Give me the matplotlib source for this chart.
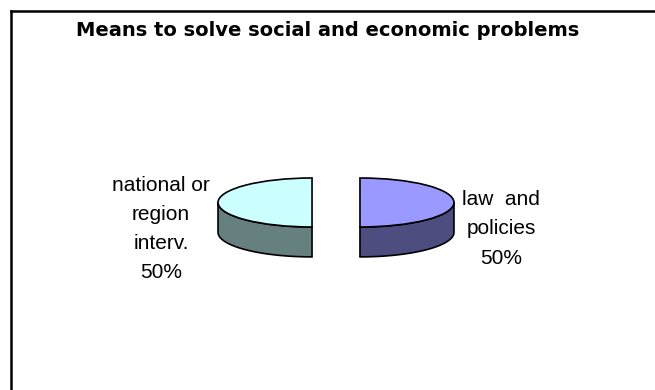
import numpy as np
import matplotlib
matplotlib.use("Agg")
import matplotlib.pyplot as plt
from matplotlib.patches import Polygon
from matplotlib.lines import Line2D

title = "Means to solve social and economic problems"
categories = ["law  and\npolicies", "national or\nregion\ninterv."]
values = [50, 50]
top_colors = ["#9999FF", "#CCFFFF"]
side_colors = ["#4D4D80", "#668080"]

plt.rcParams['font.family'] = ['Liberation Sans', 'DejaVu Sans']

W, H = 655, 390
fig = plt.figure(figsize=(W / 100, H / 100), dpi=100)
ax = fig.add_axes([0, 0, 1, 1])

explode_amt = 0.255
explode = [explode_amt] * len(values)
depth = 1.22  # in y data units (ellipse-compressed)

# pie geometry (pixels): horizontal radius 94, vertical radius 24.5
rx_px, ry_px = 94.0, 24.5
cx_px, cy_px = 336.0, H - 202.5

# angles from values
fracs = np.array(values, dtype=float) / np.sum(values)
start = 90.0
angles = []
a = start
for f in fracs:
    a2 = a - 360 * f
    angles.append((a2, a))
    a = a2

# side walls (front visible part)
for (a1, a2), col, ex in zip(angles, side_colors, explode):
    mid = np.deg2rad((a1 + a2) / 2)
    dx, dy = ex * np.cos(mid), ex * np.sin(mid)
    lo, hi = a1 % 360, (a1 % 360) + (a2 - a1)
    segs = []
    for base in (0, 360, -360):
        s, e = max(lo, 180 + base), min(hi, 360 + base)
        if e > s:
            segs.append((s, e))
    for s, e in segs:
        th = np.deg2rad(np.linspace(s, e, 100))
        xt = dx + np.cos(th)
        yt = dy + np.sin(th)
        pts = np.concatenate([np.column_stack([xt, yt]),
                              np.column_stack([xt[::-1], yt[::-1] - depth])])
        ax.add_patch(Polygon(pts, closed=True, facecolor=col, edgecolor="black",
                             linewidth=1.2, zorder=1))

wedges, _ = ax.pie(values, colors=top_colors, startangle=90, counterclock=False,
                   explode=explode,
                   wedgeprops=dict(edgecolor="black", linewidth=1.2))
for w in wedges:
    w.set_zorder(2)

ax.set_aspect("auto")
ax.set_xlim(-cx_px / rx_px, (W - cx_px) / rx_px)
ax.set_ylim(-cy_px / ry_px, (H - cy_px) / ry_px)
ax.axis("off")

# labels
for (a1, a2), cat, v, ex in zip(angles, categories, values, explode):
    mid = np.deg2rad((a1 + a2) / 2)
    side = np.sign(np.cos(mid))
    x = side * (1 + ex + 0.085)
    ax.text(x, -1.08, f"{cat}\n{v}%", ha="left" if side > 0 else "right",
            va="center", multialignment="center", fontsize=15,
            linespacing=1.68, color="black")

fig.text(327.5 / W, 1 - 31 / H, title, ha="center", va="center",
         fontsize=14, fontweight="bold", family=["DejaVu Sans"])

# chart area border (top and left visible)
lw = 1.8
fig.add_artist(Line2D([10.5 / W, 1.0], [1 - 10.5 / H, 1 - 10.5 / H],
                      transform=fig.transFigure, color="black", linewidth=lw))
fig.add_artist(Line2D([10.5 / W, 10.5 / W], [0, 1 - 10.5 / H],
                      transform=fig.transFigure, color="black", linewidth=lw))

fig.savefig("out.png", dpi=100, facecolor="white")
